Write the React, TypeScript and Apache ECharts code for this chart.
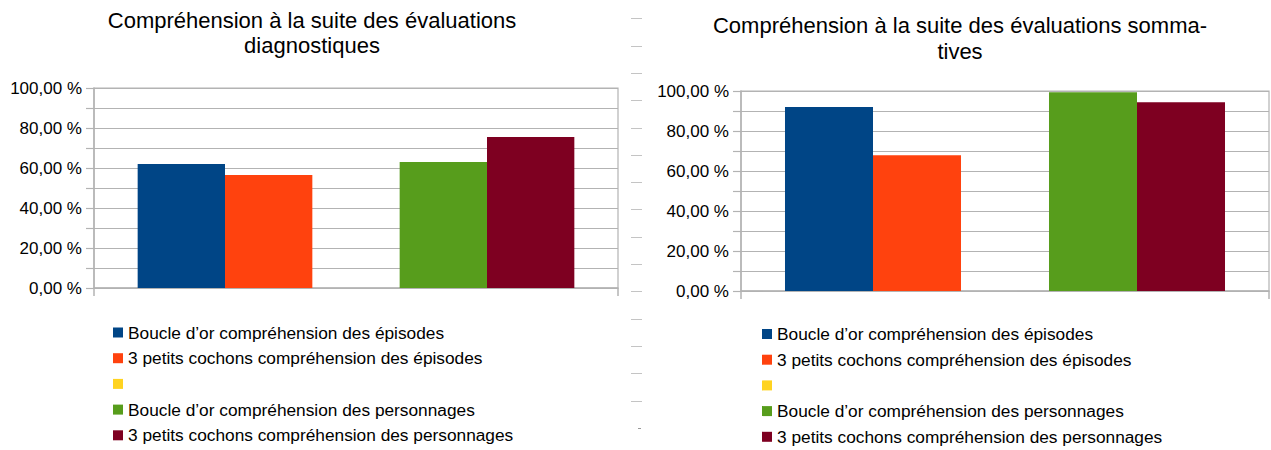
import React, { useEffect, useRef } from 'react';
import * as echarts from 'echarts';

// ---- Data ----
const categories = ['Épisodes', 'Personnages'];
const seriesNames = [
  'Boucle d’or compréhension des épisodes',
  '3 petits cochons compréhension des épisodes',
  ' ',
  'Boucle d’or compréhension des personnages',
  '3 petits cochons compréhension des personnages',
];
const seriesColors = ['#004586', '#ff420e', '#ffd320', '#579d1c', '#7e0021'];
const chartTitles = [
  'Compréhension à la suite des évaluations\ndiagnostiques',
  'Compréhension à la suite des évaluations somma-\ntives',
];
// values in % : [Boucle d'or, 3 petits cochons]
const diagEpisodes = [62.0, 56.5];
const diagPersonnages = [63.0, 75.5];
const sommEpisodes = [92.0, 67.9];
const sommPersonnages = [99.4, 94.4];
const yTickValues = [0, 20, 40, 60, 80, 100];

const FONT = 'Liberation Sans, Arial, sans-serif';
const GRAY = '#b3b3b3';

function fmtPct(v: number) {
  return v.toFixed(2).replace('.', ',') + ' %';
}

function buildSeries(k: number, episodes: number[], personnages: number[]) {
  const common = {
    type: 'bar' as const,
    xAxisIndex: k,
    yAxisIndex: k,
    barGap: '0%',
    barCategoryGap: '33.33%',
  };
  return [
    { ...common, name: seriesNames[0], stack: 'a' + k, itemStyle: { color: seriesColors[0] }, data: [episodes[0], null] },
    { ...common, name: seriesNames[1], stack: 'b' + k, itemStyle: { color: seriesColors[1] }, data: [episodes[1], null] },
    { ...common, name: seriesNames[2], stack: 'a' + k, itemStyle: { color: seriesColors[2] }, data: [] },
    { ...common, name: seriesNames[3], stack: 'a' + k, itemStyle: { color: seriesColors[3] }, data: [null, personnages[0]] },
    { ...common, name: seriesNames[4], stack: 'b' + k, itemStyle: { color: seriesColors[4] }, data: [null, personnages[1]] },
  ];
}

function makeX(k: number) {
  return {
    type: 'category' as const,
    gridIndex: k,
    data: categories,
    axisLabel: { show: false },
    axisLine: { show: true, lineStyle: { color: GRAY, width: 1.5 } },
    axisTick: { show: true, length: 8, interval: (i: number) => i === 0, lineStyle: { color: GRAY, width: 1.5 } },
    splitLine: { show: false },
  };
}

function makeY(k: number) {
  return {
    type: 'value' as const,
    gridIndex: k,
    min: 0,
    max: 100,
    interval: 10,
    axisLine: { show: true, lineStyle: { color: GRAY, width: 1.5 } },
    axisTick: { show: true, length: 8, lineStyle: { color: GRAY, width: 1.2 } },
    splitLine: { show: true, lineStyle: { color: GRAY, width: 1.2 } },
    axisLabel: {
      margin: 12,
      fontSize: 17,
      fontFamily: FONT,
      color: '#000',
      formatter: (v: number) => (yTickValues.indexOf(v) >= 0 ? fmtPct(v) : ''),
    },
  };
}

function makeLegend(left: number, top: number) {
  return {
    orient: 'vertical' as const,
    left,
    top,
    padding: 0,
    itemWidth: 10,
    itemHeight: 10,
    itemGap: 8.7,
    icon: 'rect',
    selectedMode: false,
    data: seriesNames,
    textStyle: { fontSize: 17.3, fontFamily: FONT, color: '#000', lineHeight: 17 },
  };
}

export default function App() {
  const ref = useRef<HTMLDivElement>(null);
  useEffect(() => {
    if (!ref.current) return;
    const chart = echarts.init(ref.current, undefined, { renderer: 'svg' });
    const dashes: any[] = [];
    for (let i = 0; i < 15; i++) {
      const y = Math.round(18.3 + i * 27.3) + 0.5;
      dashes.push({ type: 'line', shape: { x1: 631, y1: y, x2: 642, y2: y }, style: { stroke: '#c4c4c4', lineWidth: 1 } });
    }
    dashes.push({ type: 'line', shape: { x1: 638, y1: 428.5, x2: 641, y2: 428.5 }, style: { stroke: '#999', lineWidth: 1 } });

    chart.setOption({
      animation: false,
      backgroundColor: '#fff',
      title: [
        {
          text: chartTitles[0],
          left: 312,
          top: 8,
          textAlign: 'center',
          padding: 0,
          textStyle: { fontSize: 22, fontWeight: 'normal', fontFamily: FONT, color: '#000', lineHeight: 25 },
        },
        {
          text: chartTitles[1],
          left: 960,
          top: 12,
          textAlign: 'center',
          padding: 0,
          textStyle: { fontSize: 22, fontWeight: 'normal', fontFamily: FONT, color: '#000', lineHeight: 26 },
        },
      ],
      legend: [makeLegend(113, 324), makeLegend(762, 325.5)],
      grid: [
        { left: 94, top: 88, width: 524, height: 200, show: true, borderColor: GRAY, borderWidth: 1.2 },
        { left: 741, top: 91, width: 528, height: 200, show: true, borderColor: GRAY, borderWidth: 1.2 },
      ],
      xAxis: [makeX(0), makeX(1)],
      yAxis: [makeY(0), makeY(1)],
      series: [
        ...buildSeries(0, diagEpisodes, diagPersonnages),
        ...buildSeries(1, sommEpisodes, sommPersonnages),
      ],
      graphic: dashes,
    });
    return () => chart.dispose();
  }, []);
  return (
    <div
      ref={ref}
      style={{ position: 'absolute', left: 0, top: 0, width: 1271, height: 450 }}
    />
  );
}
